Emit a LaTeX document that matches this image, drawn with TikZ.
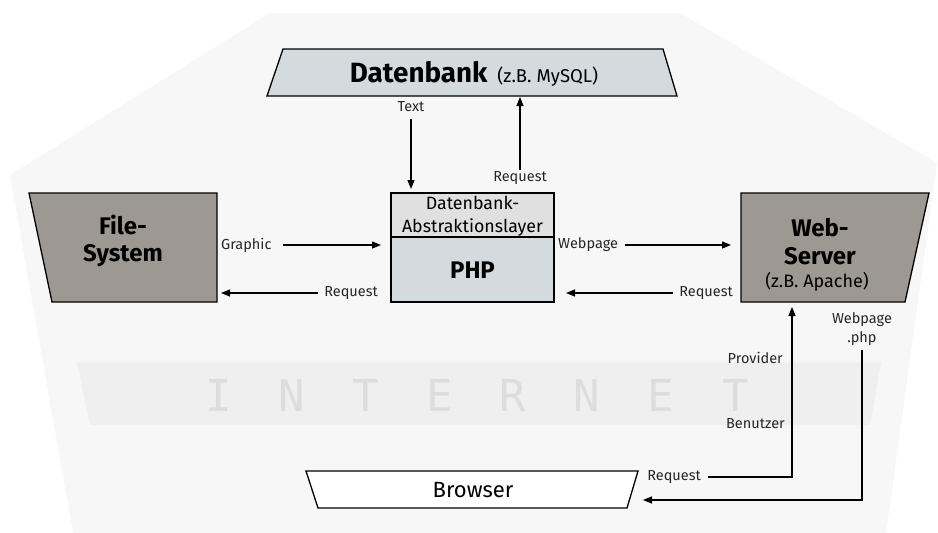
\documentclass[tikz,border=0pt]{standalone}
\usepackage{fontspec}
\setmainfont{Fira Sans}
\newfontfamily\netfont{DejaVu Sans Mono}
\usetikzlibrary{arrows.meta}
\definecolor{bgc}{HTML}{F7F7F7}
\definecolor{netband}{HTML}{EFEFEF}
\definecolor{netletter}{HTML}{DDDDDD}
\definecolor{dbfill}{HTML}{D3DBDF}
\definecolor{layerfill}{HTML}{E0E0E0}
\definecolor{srvfill}{HTML}{9D9892}
\tikzset{
  shapeline/.style={draw=black,line width=1.3pt,line join=miter},
  arr/.style={line width=1.2pt,-{Triangle[length=9pt,width=7pt]}},
  lbl/.style={font=\fontsize{14.5}{15}\selectfont,inner sep=0pt,text=black!85},
  bigbold/.style={font=\fontsize{24}{27.5}\selectfont\bfseries,inner sep=0pt,align=center},
  midtext/.style={font=\fontsize{18}{22}\selectfont,inner sep=0pt,align=center},
  netltr/.style={font=\fontsize{44}{44}\selectfont\netfont,text=netletter,inner sep=0pt}
}
\begin{document}
\begin{tikzpicture}[x=1pt,y=-1pt]
\useasboundingbox (0,0) rectangle (938,533);
\fill[white] (0,0) rectangle (938,533);
% background region
\fill[bgc] (270,13) -- (680,13) -- (937,163) -- (886,533) -- (73,533) -- (10,175) -- cycle;
% internet band
\fill[netband] (77,362) -- (881,362) -- (870,425) -- (90,425) -- cycle;
\foreach \c/\xx [count=\i] in {I/219,N/292,T/366,E/440,R/513,N/587,E/661,T/736}{
  \node[netltr] (net\i) at (\xx,395) {\c};
}
% Datenbank
\draw[shapeline,fill=dbfill] (283,49) -- (663,49) -- (677,96) -- (267,96) -- cycle;
\node[inner sep=0pt,anchor=base] (db) at (474,82) {{\fontsize{27.8}{28}\selectfont\bfseries Datenbank}\hspace{10pt}{\fontsize{18.5}{19}\selectfont (z.B. MySQL)}};
% File-System
\draw[shapeline,fill=srvfill] (29,193) -- (217,193) -- (217,302) -- (52,302) -- cycle;
\node[bigbold] (fs) at (123,241) {File-\\System};
% Web-Server
\draw[shapeline,fill=srvfill] (741,193) -- (929,193) -- (905,302) -- (741,302) -- cycle;
\node[bigbold] (ws) at (820,241.5) {Web-\\Server};
\node[midtext] (wsx) at (817,282) {(z.B. Apache)};
% PHP box
\draw[shapeline,fill=layerfill] (391,193) rectangle (554,237);
\draw[shapeline,fill=dbfill] (391,237) rectangle (554,302);
\node[midtext,font=\fontsize{17.8}{23}\selectfont] (layer) at (472.5,216.5) {Datenbank-\\Abstraktionslayer};
\node[bigbold] (php) at (472.5,270) {PHP};
% Browser
\draw[shapeline,fill=white] (306,471) -- (638,471) -- (627,508) -- (318,508) -- cycle;
\node[midtext,font=\fontsize{22}{22}\selectfont] (br) at (473,490) {Browser};

% labels
\node[lbl] (ltext) at (411,107) {Text};
\node[lbl] (lreq1) at (520,178) {Request};
\node[lbl,anchor=west] (lgraph) at (221,245) {Graphic};
\node[lbl,anchor=west] (lweb) at (558,245) {Webpage};
\node[lbl,anchor=east] (lreq2) at (378,293) {Request};
\node[lbl,anchor=east] (lreq3) at (733,293) {Request};
\node[lbl,anchor=east] (lprov) at (783,358) {Provider};
\node[lbl,anchor=east] (lben) at (785,424) {Benutzer};
\node[lbl,anchor=east] (lreq4) at (701,477) {Request};
\node[lbl,align=center,font=\fontsize{14.5}{19}\selectfont] (lwpp) at (862,329.5) {Webpage\\.php};

% connectors
\coordinate (tA) at (411,119);
\coordinate (tB) at (411,189);
\draw[arr] (tA) -- (tB);
\coordinate (rA) at (520,170);
\coordinate (rB) at (520,97);
\draw[arr] (rA) -- (rB);
\coordinate (gA) at (283,245);
\coordinate (gB) at (381,245);
\draw[arr] (gA) -- (gB);
\coordinate (wA) at (625,245);
\coordinate (wB) at (731,245);
\draw[arr] (wA) -- (wB);
\coordinate (q2A) at (318,293);
\coordinate (q2B) at (221,293);
\draw[arr] (q2A) -- (q2B);
\coordinate (q3A) at (673,293);
\coordinate (q3B) at (566,293);
\draw[arr] (q3A) -- (q3B);
\coordinate (q4A) at (708,477);
\coordinate (q4C) at (792,477);
\coordinate (q4B) at (792,307);
\draw[arr] (q4A) -- (q4C) -- (q4B);
\coordinate (pA) at (862,350);
\coordinate (pC) at (862,500);
\coordinate (pB) at (643,500);
\draw[arr] (pA) -- (pC) -- (pB);
\end{tikzpicture}
\end{document}
